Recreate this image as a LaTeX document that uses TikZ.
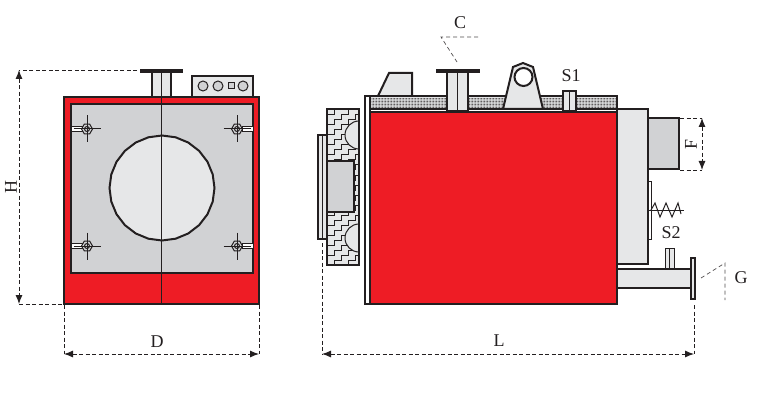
\documentclass[tikz,border=0pt]{standalone}
\usepackage{fontspec}
\setmainfont{Liberation Serif}
\usetikzlibrary{arrows.meta,patterns.meta}
\definecolor{boilerred}{HTML}{EE1C25}
\definecolor{panelgray}{HTML}{D1D2D4}
\definecolor{lightgray}{HTML}{E6E7E8}
\definecolor{linedark}{HTML}{231F20}
\tikzset{
  body/.style={draw=linedark, line width=2pt, line join=miter},
  thin part/.style={draw=linedark, line width=1pt},
  dimline/.style={draw=linedark, line width=0.9pt, dash pattern=on 4pt off 2.5pt},
  dimarrow/.style={dimline, {Latex[length=9pt,width=7pt]}-{Latex[length=9pt,width=7pt]}},
  leader/.style={draw=linedark!80, line width=0.7pt, dash pattern=on 4pt off 3pt},
  dimlabel/.style={font=\fontsize{18}{20}\selectfont, text=linedark, inner sep=0pt}
}
\begin{document}
\begin{tikzpicture}[x=1pt, y=-1pt]
  \useasboundingbox (0,0) rectangle (778,406);
  % front view
  \fill [lightgray] (152,73) rectangle (171,97);
  \draw [body] (152,73) -- (152,97) (171,73) -- (171,97);
  \draw [thin part] (161.5,73) -- (161.5,97);
  \fill [linedark] (140,69.5) rectangle (183,73.5);
  \draw [body, fill=lightgray] (192,76) rectangle (253,97);
  \foreach \cx in {203,218,243}
    \draw [thin part, fill=panelgray] (\cx,86) circle (5);
  \draw [thin part, fill=panelgray] (228,83) rectangle (234,89);
  \draw [body, fill=boilerred] (64,97) rectangle (259,304);
  \draw [body, fill=panelgray] (71,104) rectangle (253,273);
  \draw [body, fill=lightgray] plot [samples=25, domain=0:360] ({162+52.5*cos(\x)},{188+52.5*sin(\x)}) -- cycle;
  \draw [thin part] (161.5,97) -- (161.5,304);
  \foreach \bx/\by/\side/\wall in {87/129/-1/71, 237/129/1/253, 87/246/-1/71, 237/246/1/253} {
    \draw [thin part, fill=white] (\wall,\by-2.5) rectangle (\bx+\side*5,\by+2.5);
    \draw [thin part, fill=panelgray] plot [samples=7, domain=0:360] ({\bx+5.5*cos(\x)},{\by+5.5*sin(\x)}) -- cycle;
    \draw [thin part] (\bx,\by) circle (2.5);
    \draw [thin part] (\bx-13.5,\by) -- (\bx+13.5,\by) (\bx,\by-13.5) -- (\bx,\by+13.5);
  }
  % side view
  \draw [body, fill=white] (365,96) rectangle (370,304);
  \draw [body, fill=lightgray] (378,96) -- (389,73) -- (412,73) -- (412,96);
  \draw [body, fill=lightgray] (365,96) -- (617,96) -- (617,109) (370,109) -- (617,109);
  \fill [lightgray] (371,97) rectangle (616,108);
  \fill [pattern={Dots[distance=1.5pt,radius=0.5pt]}, pattern color=linedark!85] (371,98) rectangle (616,108);
  \draw [body, fill=boilerred] (370,112) rectangle (617,304);
  % top fittings
  \draw [body, fill=lightgray] (447,72) rectangle (468,111);
  \draw [thin part] (457.5,72) -- (457.5,111);
  \fill [linedark] (436,69.5) rectangle (480,73.5);
  \draw [body, fill=lightgray] (503,109) -- (513,67) -- (523,63) -- (533,67) -- (543,109) -- cycle;
  \draw [body, fill=white] (523.5,77) circle (9);
  \draw [body, fill=lightgray] (563,91) rectangle (576,111);
  \draw [thin part] (569.5,91) -- (569.5,111);
  % rear casing, burner, pipe
  \draw [body, fill=lightgray] (617,109) rectangle (648,264);
  \draw [body, fill=panelgray] (648,118) rectangle (679,169);
  \draw [thin part, fill=white] (648,181) rectangle (651,239);
  \draw [thin part] (648,210) -- (684,210);
  \draw [thin part] (651,210) -- (655,203) -- (660,217) -- (666,203) -- (672,217) -- (678,203) -- (681,214);
  \draw [thin part, fill=lightgray] (665,248) rectangle (674,268);
  \draw [thin part] (669.5,248) -- (669.5,268);
  \draw [body, fill=lightgray] (617,269) rectangle (691,288);
  \draw [body, fill=lightgray] (691,258) rectangle (695,299);
  % door with brick lining
  \draw [body, fill=lightgray] (318,135) rectangle (327,239);
  \draw [thin part] (322,135) -- (322,239);
  \draw [body, fill=lightgray] (327,109) rectangle (359,265);
  \begin{scope}
    \clip (327,109) rectangle (359,265);
    \foreach \by in {104,114,...,274}
      \draw [thin part] (320,\by+16) -- ++(7,0) -- ++(0,-5) -- ++(7,0) -- ++(0,-5) -- ++(7,0) -- ++(0,-5) -- ++(7,0) -- ++(0,-5) -- ++(7,0) -- ++(0,-5) -- ++(7,0);
    \draw [thin part, fill=lightgray] (359,135) circle (14);
    \draw [thin part, fill=lightgray] (359,238) circle (14);
  \end{scope}
  \draw [body, fill=panelgray] (327,161) rectangle (354,212);
  \draw [body] (327,109) rectangle (359,265);
  % dimensions
  \coordinate (hTop) at (19,70);
  \coordinate (hTopEnd) at (137,70);
  \coordinate (hBot) at (19,304);
  \coordinate (hBotEnd) at (62,304);
  \draw [dimline] (hTopEnd) -- (hTop);
  \draw [dimline] (hBot) -- (hBotEnd);
  \draw [dimarrow] (hTop) -- (hBot);
  \node [dimlabel, rotate=90] (labelH) at (11,187) {H};
  \coordinate (dLeft) at (64,354);
  \coordinate (dRight) at (259,354);
  \coordinate (dLeftEnd) at (64,305);
  \coordinate (dRightEnd) at (259,305);
  \draw [dimline] (dLeftEnd) -- (dLeft);
  \draw [dimline] (dRightEnd) -- (dRight);
  \draw [dimarrow] (dLeft) -- (dRight);
  \node [dimlabel] (labelD) at (157,342) {D};
  \coordinate (lLeft) at (322,354);
  \coordinate (lRight) at (694,354);
  \coordinate (lLeftEnd) at (322,243);
  \coordinate (lRightEnd) at (694,305);
  \draw [dimline] (lLeftEnd) -- (lLeft);
  \draw [dimline] (lRightEnd) -- (lRight);
  \draw [dimarrow] (lLeft) -- (lRight);
  \node [dimlabel] (labelL) at (499,341) {L};
  \coordinate (fTop) at (702,118);
  \coordinate (fBot) at (702,170);
  \coordinate (fTopEnd) at (680,118);
  \coordinate (fBotEnd) at (680,170);
  \draw [dimline] (fTopEnd) -- (fTop);
  \draw [dimline] (fBotEnd) -- (fBot);
  \draw [dimarrow] (fTop) -- (fBot);
  \node [dimlabel, rotate=90] (labelF) at (691,144) {F};
  % leaders
  \coordinate (cCorner) at (441,37);
  \coordinate (cEnd) at (478,37);
  \coordinate (cStack) at (457,62);
  \draw [leader] (cEnd) -- (cCorner) -- (cStack);
  \node [dimlabel] (labelC) at (460,23) {C};
  \node [dimlabel] (labelSa) at (571,76) {S1};
  \node [dimlabel] (labelSb) at (671,233) {S2};
  \coordinate (gFlange) at (701,278);
  \coordinate (gCorner) at (725,263);
  \coordinate (gEnd) at (725,300);
  \draw [leader] (gFlange) -- (gCorner) -- (gEnd);
  \node [dimlabel] (labelG) at (741,278) {G};
\end{tikzpicture}
\end{document}
